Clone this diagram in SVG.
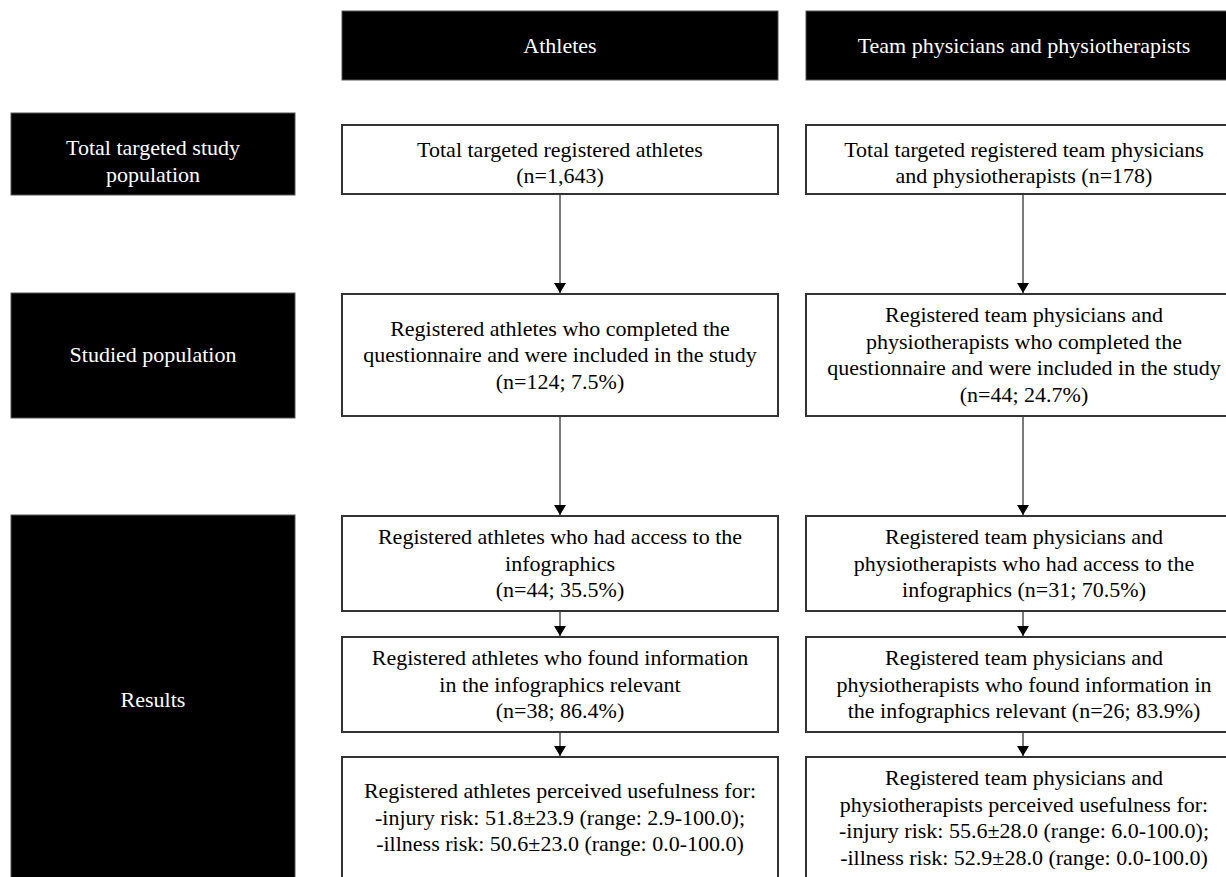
<svg xmlns="http://www.w3.org/2000/svg" width="1226" height="877" viewBox="0 0 1226 877">
<defs>
<style>
.t{font-family:"Liberation Serif","Times New Roman",serif;font-size:22px;text-anchor:middle;fill:#000}
.w{fill:#fff}
.dark{fill:#000;stroke:#555;stroke-width:1}
.box{fill:#fff;stroke:#333;stroke-width:2}
.c{stroke:#333;stroke-width:1.3;fill:none;marker-end:url(#ah)}
</style>
<marker id="ah" viewBox="0 0 10 12" refX="10" refY="6" markerWidth="10" markerHeight="12" markerUnits="userSpaceOnUse" orient="auto">
<path d="M0,0 L10,6 L0,12 Z" fill="#000"/>
</marker>
</defs>
<rect width="1226" height="877" fill="#fff"/>

<g id="hdr-athletes">
<rect class="dark" x="342" y="11" width="436" height="69"/>
<text class="t w" x="560" y="53">Athletes</text>
</g>
<g id="hdr-physicians">
<rect class="dark" x="806" y="11" width="436" height="69"/>
<text class="t w" x="1024" y="53">Team physicians and physiotherapists</text>
</g>

<g id="lbl-total">
<rect class="dark" x="11" y="113" width="284" height="82"/>
<text class="t w" x="153" y="155">Total targeted study</text>
<text class="t w" x="153" y="182">population</text>
</g>
<g id="lbl-studied">
<rect class="dark" x="11" y="293" width="284" height="125"/>
<text class="t w" x="153" y="362">Studied population</text>
</g>
<g id="lbl-results">
<rect class="dark" x="11" y="515" width="284" height="370"/>
<text class="t w" x="153" y="707">Results</text>
</g>

<g id="a1">
<rect class="box" x="342" y="125" width="436" height="69"/>
<text class="t" x="560" y="157">Total targeted registered athletes</text>
<text class="t" x="560" y="183">(n=1,643)</text>
</g>
<g id="p1">
<rect class="box" x="806" y="125" width="436" height="69"/>
<text class="t" x="1024" y="157">Total targeted registered team physicians</text>
<text class="t" x="1024" y="183">and physiotherapists (n=178)</text>
</g>

<g id="a2">
<rect class="box" x="342" y="294" width="436" height="122"/>
<text class="t" x="560" y="335.5">Registered athletes who completed the</text>
<text class="t" x="560" y="362">questionnaire and were included in the study</text>
<text class="t" x="560" y="388.5">(n=124; 7.5%)</text>
</g>
<g id="p2">
<rect class="box" x="806" y="294" width="436" height="122"/>
<text class="t" x="1024" y="322">Registered team physicians and</text>
<text class="t" x="1024" y="348.5">physiotherapists who completed the</text>
<text class="t" x="1024" y="375">questionnaire and were included in the study</text>
<text class="t" x="1024" y="401.5">(n=44; 24.7%)</text>
</g>

<g id="a3">
<rect class="box" x="342" y="516" width="436" height="95"/>
<text class="t" x="560" y="544">Registered athletes who had access to the</text>
<text class="t" x="560" y="570.5">infographics</text>
<text class="t" x="560" y="597">(n=44; 35.5%)</text>
</g>
<g id="p3">
<rect class="box" x="806" y="516" width="436" height="95"/>
<text class="t" x="1024" y="544">Registered team physicians and</text>
<text class="t" x="1024" y="570.5">physiotherapists who had access to the</text>
<text class="t" x="1024" y="597">infographics (n=31; 70.5%)</text>
</g>

<g id="a4">
<rect class="box" x="342" y="637" width="436" height="95"/>
<text class="t" x="560" y="665">Registered athletes who found information</text>
<text class="t" x="560" y="691.5">in the infographics relevant</text>
<text class="t" x="560" y="718">(n=38; 86.4%)</text>
</g>
<g id="p4">
<rect class="box" x="806" y="637" width="436" height="95"/>
<text class="t" x="1024" y="665">Registered team physicians and</text>
<text class="t" x="1024" y="691.5">physiotherapists who found information in</text>
<text class="t" x="1024" y="718">the infographics relevant (n=26; 83.9%)</text>
</g>

<g id="a5">
<rect class="box" x="342" y="757" width="436" height="130"/>
<text class="t" x="560" y="798">Registered athletes perceived usefulness for:</text>
<text class="t" x="560" y="824.5">-injury risk: 51.8±23.9 (range: 2.9-100.0);</text>
<text class="t" x="560" y="851">-illness risk: 50.6±23.0 (range: 0.0-100.0)</text>
</g>
<g id="p5">
<rect class="box" x="806" y="757" width="436" height="130"/>
<text class="t" x="1024" y="785">Registered team physicians and</text>
<text class="t" x="1024" y="811.5">physiotherapists perceived usefulness for:</text>
<text class="t" x="1024" y="838">-injury risk: 55.6±28.0 (range: 6.0-100.0);</text>
<text class="t" x="1024" y="864.5">-illness risk: 52.9±28.0 (range: 0.0-100.0)</text>
</g>

<g id="connectors">
<line class="c" x1="560" y1="194" x2="560" y2="293"/>
<line class="c" x1="560" y1="416" x2="560" y2="515"/>
<line class="c" x1="560" y1="611" x2="560" y2="636"/>
<line class="c" x1="560" y1="732" x2="560" y2="756"/>
<line class="c" x1="1023" y1="194" x2="1023" y2="293"/>
<line class="c" x1="1023" y1="416" x2="1023" y2="515"/>
<line class="c" x1="1023" y1="611" x2="1023" y2="636"/>
<line class="c" x1="1023" y1="732" x2="1023" y2="756"/>
</g>
</svg>
